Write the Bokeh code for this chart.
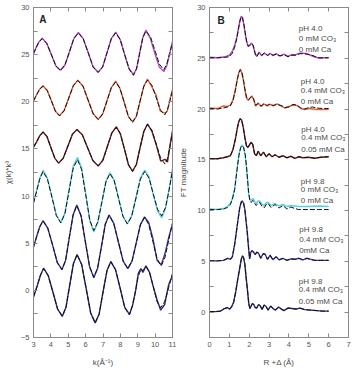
from bokeh.plotting import figure
from bokeh.layouts import row
from bokeh.models import FixedTicker, LinearAxis, CustomLabelingPolicy
from bokeh.core.properties import value
from bokeh.embed import file_html
from bokeh.resources import INLINE

# ---------------- Panel A data: k^3-weighted chi(k), offset spectra ----------------
k_a1 = [3.0, 3.15, 3.3, 3.5, 3.76, 4.03, 4.29, 4.55, 4.81, 5.07, 5.32, 5.58, 5.86, 6.15, 6.43, 6.72,
        6.98, 7.23, 7.48, 7.73, 7.99, 8.24, 8.5, 8.75, 8.93, 9.11, 9.29, 9.47, 9.73, 9.99, 10.24, 10.5,
        10.67, 10.83, 11.0]
fit_a1 = [25.1, 25.75, 26.3, 26.7, 26.2, 25.0, 23.8, 23.3, 23.9, 25.3, 26.7, 27.3, 26.7, 25.2, 23.7, 23.1,
          23.7, 25.2, 26.7, 27.3, 26.6, 25.05, 23.5, 22.8, 23.5, 25.15, 26.8, 27.5, 26.9, 25.45, 24.0, 23.4,
          24.0, 25.1, 26.3]
dat_a1 = [25.1, 25.75, 26.3, 26.75, 26.2, 25.0, 23.8, 23.35, 23.9, 25.3, 26.7, 27.35, 26.7, 25.2, 23.7, 23.15,
          23.7, 25.2, 26.7, 27.4, 26.6, 25.05, 23.5, 22.9, 23.5, 25.15, 26.8, 27.6, 26.7, 25.1, 23.7, 23.2,
          23.8, 25.0, 26.4]

k_a2 = [3.0, 3.18, 3.36, 3.55, 3.79, 4.03, 4.26, 4.5, 4.76, 5.03, 5.29, 5.55, 5.85, 6.14, 6.44, 6.73,
        6.98, 7.23, 7.48, 7.73, 7.97, 8.22, 8.46, 8.7, 8.92, 9.13, 9.35, 9.56, 9.81, 10.06, 10.3, 10.55,
        10.7, 10.85, 11.0]
fit_a2 = [20.1, 20.75, 21.35, 21.65, 21.2, 20.1, 19.0, 18.5, 19.05, 20.4, 21.7, 22.25, 21.65, 20.2, 18.7, 18.1,
          18.7, 20.1, 21.5, 22.1, 21.45, 19.95, 18.45, 17.8, 18.45, 20.05, 21.65, 22.3, 21.75, 20.45, 19.15, 18.6,
          19.1, 20.1, 21.2]
dat_a2 = [20.1, 20.75, 21.35, 21.7, 21.2, 20.1, 19.0, 18.55, 19.05, 20.4, 21.7, 22.3, 21.65, 20.2, 18.7, 18.15,
          18.7, 20.1, 21.5, 22.2, 21.45, 19.95, 18.45, 17.9, 18.45, 20.05, 21.65, 22.4, 21.6, 20.7, 19.0, 18.8,
          19.0, 20.2, 21.3]

k_a3 = [3.0, 3.18, 3.36, 3.55, 3.78, 4.0, 4.23, 4.45, 4.71, 4.98, 5.24, 5.5, 5.81, 6.12, 6.42, 6.73,
        6.99, 7.25, 7.51, 7.77, 8.0, 8.24, 8.47, 8.7, 8.92, 9.13, 9.35, 9.56, 9.81, 10.07, 10.32, 10.57,
        10.71, 10.86, 11.0]
fit_a3 = [15.2, 15.75, 16.4, 16.8, 16.3, 15.15, 14.0, 13.5, 14.0, 15.3, 16.55, 17.05, 16.5, 15.1, 13.75, 13.2,
          13.8, 15.25, 16.7, 17.3, 16.6, 14.95, 13.3, 12.6, 13.35, 15.1, 16.85, 17.6, 17.0, 15.5, 14.0, 13.4,
          14.0, 15.3, 16.8]
dat_a3 = [15.2, 15.75, 16.4, 16.8, 16.3, 15.15, 14.0, 13.5, 14.0, 15.3, 16.55, 17.05, 16.5, 15.1, 13.75, 13.2,
          13.8, 15.25, 16.7, 17.35, 16.6, 14.95, 13.3, 12.65, 13.35, 15.1, 16.85, 17.65, 16.9, 15.4, 13.7, 13.9,
          13.6, 15.4, 16.9]

k_a4 = [3.0, 3.18, 3.36, 3.55, 3.8, 4.06, 4.31, 4.57, 4.81, 5.05, 5.29, 5.53, 5.77, 6.0, 6.24, 6.47,
        6.7, 6.94, 7.17, 7.4, 7.65, 7.9, 8.15, 8.4, 8.65, 8.9, 9.15, 9.4, 9.65, 9.89, 10.14, 10.38,
        10.6, 10.8, 11.0]
fit_a4 = [9.25, 10.5, 11.8, 12.6, 11.8, 9.9, 7.95, 7.15, 8.15, 10.6, 13.0, 13.85, 12.8, 10.2, 7.45, 6.35,
          7.25, 9.4, 11.5, 12.4, 11.6, 9.7, 7.85, 7.05, 7.85, 9.8, 11.8, 12.6, 11.9, 10.25, 8.6, 7.9,
          8.8, 10.6, 12.7]
dat_a4 = [9.3, 10.6, 11.9, 12.75, 11.9, 9.95, 8.0, 7.2, 8.2, 10.7, 13.2, 14.1, 13.0, 10.3, 7.4, 6.2,
          7.2, 9.4, 11.6, 12.5, 11.7, 9.75, 7.85, 7.05, 7.9, 9.85, 11.9, 12.75, 12.0, 10.2, 8.4, 7.7,
          8.7, 10.7, 12.9]

k_a5 = [3.0, 3.18, 3.36, 3.55, 3.82, 4.1, 4.37, 4.64, 4.85, 5.06, 5.28, 5.49, 5.74, 5.98, 6.23, 6.47,
        6.69, 6.91, 7.13, 7.35, 7.62, 7.89, 8.16, 8.43, 8.67, 8.91, 9.15, 9.39, 9.63, 9.87, 10.11, 10.35,
        10.57, 10.78, 11.0]
fit_a5 = [4.6, 5.7, 6.75, 7.35, 6.6, 4.8, 2.95, 2.2, 3.2, 5.6, 8.0, 9.0, 7.9, 5.2, 2.5, 1.4,
          2.35, 4.65, 7.0, 7.95, 7.1, 5.1, 3.1, 2.3, 3.1, 5.0, 6.95, 7.75, 7.0, 5.2, 3.35, 2.6,
          3.5, 5.3, 7.2]
dat_a5 = [4.6, 5.7, 6.75, 7.4, 6.6, 4.8, 2.95, 2.2, 3.2, 5.6, 8.0, 9.05, 7.9, 5.2, 2.5, 1.35,
          2.35, 4.65, 7.0, 8.0, 7.1, 5.1, 3.1, 2.3, 3.1, 5.0, 6.95, 7.8, 7.2, 5.5, 3.2, 2.7,
          3.9, 5.6, 7.0]

k_a6 = [3.0, 3.2, 3.4, 3.58, 3.85, 4.12, 4.39, 4.66, 4.87, 5.08, 5.3, 5.51, 5.77, 6.03, 6.29, 6.55,
        6.78, 7.0, 7.23, 7.45, 7.72, 7.99, 8.25, 8.52, 8.7, 8.88, 9.03, 9.18, 9.3, 9.47,
        9.68, 9.9, 10.11, 10.32, 10.55, 10.78, 11.0]
fit_a6 = [-0.7, 0.4, 1.6, 2.3, 1.55, -0.2, -2.0, -2.75, -1.8, 0.5, 2.85, 3.8, 2.75, 0.2, -2.4, -3.45,
          -2.5, -0.2, 2.1, 3.05, 2.2, 0.2, -1.8, -2.6, -1.6, 0.0, 1.5, 2.2, 2.1, 2.55,
          1.9, 0.35, -1.2, -1.85, -1.2, 0.3, 1.8]
dat_a6 = [-0.7, 0.4, 1.6, 2.35, 1.55, -0.2, -2.0, -2.75, -1.8, 0.5, 2.85, 3.8, 2.75, 0.2, -2.4, -3.45,
          -2.5, -0.2, 2.1, 3.05, 2.2, 0.2, -1.8, -2.55, -1.6, 0.0, 1.8, 2.3, 1.9, 2.6,
          1.9, 0.35, -1.0, -2.1, -1.5, 0.6, 1.6]

# ---------------- Panel B data: FT magnitude, offset spectra ----------------
r_b1 = [0.0, 0.4, 0.8, 1.0, 1.15, 1.27, 1.38, 1.47, 1.54, 1.6, 1.66, 1.73, 1.8, 1.87, 1.95, 2.03, 2.12, 2.2,
        2.3, 2.38, 2.5, 2.62, 2.78, 2.92, 3.05, 3.2, 3.35, 3.55, 3.75, 3.95, 4.15, 4.35, 4.55, 4.75, 4.95,
        5.15, 5.35, 5.55, 5.8, 6.0]
fit_b1 = [25.05, 25.05, 25.1, 25.15, 25.5, 26.1, 27.0, 28.0, 28.7, 29.1, 29.0, 28.4, 27.5, 26.7, 26.2, 26.25,
          26.45, 26.3, 25.5, 25.15, 25.55, 25.3, 25.55, 25.25, 25.45, 25.3, 25.4, 25.25, 25.35, 25.15, 25.3,
          25.3, 25.45, 25.45, 25.4, 25.3, 25.15, 25.05, 25.05, 25.05]
dat_b1 = [25.1, 25.05, 25.15, 25.3, 25.7, 26.3, 27.1, 28.1, 28.8, 29.15, 29.0, 28.3, 27.4, 26.6, 26.15, 26.3,
          26.5, 26.2, 25.4, 25.2, 25.6, 25.25, 25.5, 25.3, 25.5, 25.25, 25.45, 25.2, 25.4, 25.2, 25.35,
          25.35, 25.5, 25.5, 25.4, 25.25, 25.1, 25.0, 25.05, 25.05]

r_b2 = [0.0, 0.4, 0.7, 0.9, 1.05, 1.18, 1.3, 1.4, 1.48, 1.55, 1.62, 1.7, 1.78, 1.86, 1.95, 2.04, 2.13, 2.22,
        2.32, 2.45, 2.6, 2.75, 2.9, 3.05, 3.2, 3.4, 3.6, 3.8, 4.0, 4.2, 4.4, 4.6, 4.8, 5.0, 5.2, 5.4, 5.7, 6.0]
fit_b2 = [20.05, 20.0, 20.1, 20.2, 20.3, 20.8, 21.8, 22.9, 23.6, 23.9, 23.7, 23.0, 22.0, 21.2, 20.9, 21.05,
          21.25, 21.0, 20.35, 20.55, 20.3, 20.55, 20.35, 20.5, 20.35, 20.45, 20.35, 20.15, 20.2, 20.45, 20.4,
          20.1, 20.0, 20.15, 20.2, 20.1, 20.05, 20.05]
dat_b2 = [20.1, 20.05, 20.3, 20.25, 20.4, 20.9, 21.9, 22.95, 23.6, 23.85, 23.6, 22.9, 21.9, 21.1, 20.85, 21.1,
          21.3, 20.95, 20.3, 20.6, 20.25, 20.5, 20.3, 20.45, 20.3, 20.5, 20.3, 20.1, 20.25, 20.4, 20.35,
          20.05, 19.95, 20.05, 20.0, 19.95, 19.95, 19.95]

r_b3 = [0.0, 0.4, 0.7, 0.9, 1.05, 1.18, 1.3, 1.4, 1.48, 1.55, 1.62, 1.7, 1.78, 1.86, 1.93, 2.02, 2.1, 2.18,
        2.27, 2.36, 2.45, 2.58, 2.72, 2.86, 3.0, 3.15, 3.3, 3.5, 3.7, 3.9, 4.1, 4.3, 4.5, 4.7, 5.0, 5.3, 5.6, 6.0]
fit_b3 = [15.1, 15.1, 15.2, 15.3, 15.4, 16.0, 17.0, 18.1, 18.8, 19.05, 18.9, 18.2, 17.2, 16.4, 16.2, 16.5,
          16.75, 16.5, 15.6, 15.4, 15.85, 15.4, 15.75, 15.3, 15.6, 15.3, 15.5, 15.25, 15.4, 15.2, 15.35,
          15.15, 15.3, 15.2, 15.25, 15.15, 15.25, 15.3]

r_b4 = [0.0, 0.4, 0.7, 0.9, 1.05, 1.15, 1.27, 1.38, 1.48, 1.57, 1.65, 1.72, 1.8, 1.86, 1.92, 1.97, 2.03, 2.1,
        2.18, 2.27, 2.35, 2.45, 2.53, 2.65, 2.77, 2.87, 2.95, 3.1, 3.3, 3.5, 3.7, 3.9, 4.1, 4.3, 4.5, 5.0, 5.5, 6.0]
fit_b4 = [10.1, 10.1, 10.15, 10.3, 10.6, 11.1, 12.1, 13.9, 15.4, 16.2, 16.4, 16.2, 15.5, 14.4, 13.0, 11.8,
          11.0, 10.8, 11.0, 10.7, 10.5, 10.75, 10.8, 10.4, 10.3, 10.65, 10.7, 10.3, 10.6, 10.25, 10.5,
          10.15, 10.35, 10.2, 10.1, 10.1, 10.1, 10.1]
dat_b4 = [10.15, 10.1, 10.2, 10.4, 10.7, 11.2, 12.2, 14.0, 15.5, 16.3, 16.45, 16.2, 15.4, 14.3, 12.9, 11.7,
          11.1, 11.0, 11.2, 10.9, 10.7, 10.95, 10.95, 10.6, 10.5, 10.8, 10.8, 10.5, 10.7, 10.45, 10.6,
          10.4, 10.5, 10.45, 10.4, 10.4, 10.45, 10.4]

r_b5 = [0.0, 0.4, 0.7, 0.92, 1.05, 1.15, 1.27, 1.36, 1.43, 1.52, 1.6, 1.65, 1.72, 1.78, 1.84, 1.9, 1.96, 2.02,
        2.08, 2.15, 2.22, 2.3, 2.38, 2.47, 2.58, 2.7, 2.8, 2.92, 3.05, 3.2, 3.35, 3.5, 3.7, 3.9, 4.1, 4.3,
        4.5, 4.7, 4.9, 5.1, 5.3, 5.6, 6.0]
fit_b5 = [5.05, 5.05, 5.1, 5.3, 5.2, 5.45, 6.7, 8.0, 9.0, 10.25, 10.85, 10.95, 10.7, 10.1, 9.0, 7.9, 6.5, 5.25,
          5.9, 6.05, 5.9, 5.65, 5.9, 5.8, 5.3, 5.75, 5.7, 5.2, 5.6, 5.15, 5.45, 5.15, 5.3, 5.1, 5.25, 5.2,
          5.3, 5.15, 5.3, 5.2, 5.1, 5.1, 5.1]

r_b6 = [0.0, 0.3, 0.55, 0.75, 0.9, 1.02, 1.12, 1.22, 1.32, 1.42, 1.52, 1.6, 1.66, 1.72, 1.78, 1.85, 1.92, 1.98,
        2.04, 2.1, 2.16, 2.23, 2.3, 2.38, 2.47, 2.56, 2.65, 2.75, 2.85, 2.95, 3.08, 3.2, 3.32, 3.48, 3.62,
        3.75, 3.95, 4.15, 4.35, 4.55, 4.8, 5.1, 5.4, 5.7, 6.0]
fit_b6 = [0.05, 0.05, 0.1, 0.35, 0.45, 0.3, 0.55, 1.0, 2.0, 3.2, 4.3, 5.2, 5.55, 5.35, 4.7, 3.3, 2.0, 0.8,
          0.35, 0.6, 0.85, 0.75, 0.45, 0.4, 0.75, 0.6, 0.25, 0.7, 0.55, 0.2, 0.6, 0.35, 0.2, 0.5, 0.3,
          0.15, 0.4, 0.35, 0.3, 0.4, 0.25, 0.2, 0.15, 0.1, 0.1]

# sample conditions (labels of panel B)
label_ph = ["pH 4.0", "pH 4.0", "pH 4.0", "pH 9.8", "pH 9.8", "pH 9.8"]
label_co3 = ["0 mM CO₃", "0.4 mM CO₃", "0.4 mM CO₃", "0 mM CO₃", "0.4 mM CO₃", "0.4 mM CO₃"]
label_ca = ["0 mM Ca", "0 mM Ca", "0.05 mM Ca", "0 mM Ca", "0mM Ca", "0.05 mM Ca"]

a_xticks = [3, 4, 5, 6, 7, 8, 9, 10, 11]
a_yticks = [-5, 0, 5, 10, 15, 20, 25, 30]
b_xticks = [0, 1, 2, 3, 4, 5, 6, 7]
b_yticks = [0, 5, 10, 15, 20, 25, 30]
y_minor = [-2.5, 2.5, 7.5, 12.5, 17.5, 22.5, 27.5]

colors = ["#b54cc4", "#e2643f", "#6b2020", "#55d3dc", "#3a3aa6", "#2e2c7c"]

# ---------------- styling ----------------
FONT = "Liberation Sans"
GRAY = "#8a8a8a"
TXT = "#4a4a4a"

HIDE_JS = """
try {
  const on = Array.from(indices);
  for (const i of on) { indices.unset(i); }
} catch (e) {}
return indices;
"""


def style_axis(ax, ticks, minor, show_labels=True):
    ax.ticker = FixedTicker(ticks=ticks, minor_ticks=minor)
    ax.axis_line_color = GRAY
    ax.major_tick_line_color = GRAY
    ax.minor_tick_line_color = GRAY
    ax.major_tick_in = 4
    ax.major_tick_out = 0
    ax.minor_tick_in = 4
    ax.minor_tick_out = 0
    ax.major_label_text_font = FONT
    ax.major_label_text_color = "#555555"
    ax.major_label_text_font_size = "7.5px"
    ax.axis_label_text_font = FONT
    ax.axis_label_text_font_style = "normal"
    ax.axis_label_text_font_size = "8px"
    ax.axis_label_text_color = TXT
    if show_labels:
        ax.major_label_standoff = 4
    else:
        ax.major_label_overrides = {t: "" for t in ticks}
        ax.major_label_policy = CustomLabelingPolicy(code=HIDE_JS)
        ax.major_label_standoff = 0


def make_fig(w, xr, yr, xticks, yticks, xlabel, ylabel, bl, br, ystand):
    p = figure(width=w, height=378, x_range=xr, y_range=yr,
               output_backend="svg", toolbar_location=None,
               min_border_left=bl, min_border_right=br,
               min_border_top=7, min_border_bottom=41)
    p.grid.visible = False
    p.outline_line_color = GRAY
    p.background_fill_color = "white"
    p.border_fill_color = "white"
    style_axis(p.xaxis[0], xticks, [])
    style_axis(p.yaxis[0], yticks, y_minor)
    p.xaxis[0].axis_label = xlabel
    p.yaxis[0].axis_label = ylabel
    p.xaxis[0].axis_label_standoff = 8
    p.yaxis[0].axis_label_standoff = ystand
    top = LinearAxis()
    style_axis(top, xticks, [], show_labels=False)
    p.add_layout(top, "above")
    right = LinearAxis()
    style_axis(right, yticks, y_minor, show_labels=False)
    p.add_layout(right, "right")
    return p


pA = make_fig(176, (3, 11), (-5, 30), a_xticks, a_yticks, "k(Å⁻¹)", "χ(k)*k³", 31, 4, 5)
pB = make_fig(180, (0, 7), (-2.5, 30), b_xticks, b_yticks, "R +Δ (Å)", "FT magnitude", 32, 8, 6)

a_k = [k_a1, k_a2, k_a3, k_a4, k_a5, k_a6]
a_dat = [dat_a1, dat_a2, dat_a3, dat_a4, dat_a5, dat_a6]
a_fit = [fit_a1, fit_a2, fit_a3, fit_a4, fit_a5, fit_a6]
for kk, d, f, c in zip(a_k, a_dat, a_fit, colors):
    pA.line(kk, d, line_color=c, line_width=1.4)
    pA.line(kk, f, line_color="#111111", line_width=1.0, line_dash="5 2")

b_r = [r_b1, r_b2, r_b3, r_b4, r_b5, r_b6]
b_dat = [dat_b1, dat_b2, fit_b3, dat_b4, fit_b5, fit_b6]
b_fit = [fit_b1, fit_b2, fit_b3, fit_b4, fit_b5, fit_b6]
for rr, d, f, c in zip(b_r, b_dat, b_fit, colors):
    pB.line(rr, d, line_color=c, line_width=1.4)
    pB.line(rr, f, line_color="#111111", line_width=1.0, line_dash="5 2")

# panel letters
pA.text(x=[3.33], y=[28.7], text=["A"], text_font=value(FONT), text_font_style="bold",
        text_font_size=value("10px"), text_color="#222222", text_baseline="middle")
pB.text(x=[0.4], y=[28.75], text=["B"], text_font=value(FONT), text_font_style="bold",
        text_font_size=value("10px"), text_color="#222222", text_baseline="middle")

# condition labels in panel B
lab_x = [4.5, 4.6, 4.62, 4.6, 4.52, 4.5]
lab_y1 = [27.9, 22.7, 18.0, 12.9, 8.1, 3.0]
lab_y2 = [26.9, 21.8, 17.2, 12.1, 7.2, 2.2]
lab_y3 = [25.85, 20.7, 16.0, 10.95, 6.1, 1.0]
for ys, txt in ((lab_y1, label_ph), (lab_y2, label_co3), (lab_y3, label_ca)):
    pB.text(x=lab_x, y=ys, text=txt, text_font=value(FONT), text_font_size=value("8px"),
            text_color=TXT, text_baseline="middle", text_align="left")

layout = row(pA, pB)
open("out.html", "w").write(file_html(layout, INLINE))
